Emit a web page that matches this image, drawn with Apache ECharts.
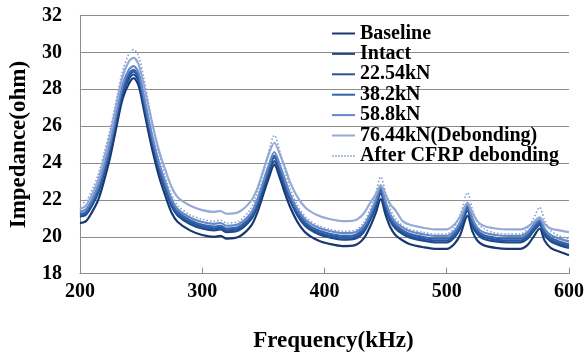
<!DOCTYPE html>
<html>
<head>
<meta charset="utf-8">
<script src="https://cdn.jsdelivr.net/npm/echarts@6/dist/echarts.min.js"></script>
<style>
  html, body { margin: 0; padding: 0; background: #fff; }
  #my_echart { width: 587px; height: 358px; }
</style>
</head>
<body>
<div id="my_echart"></div>
<script>
// 频率 (kHz)
var freq = [200,205,210,215,220,225,230,235,240,244,248,252,256,260,265,270,275,280,290,300,310,315,320,330,340,345,350,354,359,364,368,372,378,385,395,405,415,425,432,437,442,446,450,454,458,464,470,480,490,500,506,511,517,521,525,530,540,550,560,566,571,576,580,585,592,600];

// 阻抗 (ohm)
var baseline = [20.75,20.85,21.35,22.0,23.1,24.4,26.0,27.5,28.3,28.6,28.2,27.0,25.7,24.5,23.2,22.2,21.3,20.8,20.35,20.1,20.0,20.05,19.9,20.0,20.6,21.3,22.3,23.1,23.9,23.1,22.3,21.6,20.8,20.2,19.8,19.6,19.5,19.55,19.9,20.5,21.3,22.05,21.2,20.5,20.1,19.8,19.6,19.45,19.35,19.35,19.6,20.1,21.15,20.3,19.8,19.55,19.4,19.35,19.35,19.55,20.0,20.45,19.8,19.4,19.2,19.0];
var intact = [21.1,21.2,21.7,22.4,23.5,24.8,26.4,27.8,28.55,28.8,28.45,27.3,26.0,24.85,23.55,22.55,21.65,21.15,20.7,20.45,20.35,20.4,20.25,20.35,20.95,21.6,22.55,23.35,24.1,23.35,22.6,21.95,21.15,20.55,20.15,19.95,19.85,19.9,20.25,20.85,21.6,22.35,21.5,20.85,20.45,20.15,19.95,19.8,19.7,19.7,19.95,20.45,21.4,20.6,20.15,19.9,19.75,19.7,19.7,19.9,20.3,20.65,20.1,19.75,19.55,19.4];
var load2254 = [21.2,21.3,21.8,22.5,23.6,24.9,26.5,27.95,28.7,28.95,28.6,27.45,26.15,24.95,23.65,22.65,21.75,21.25,20.8,20.55,20.45,20.5,20.35,20.45,21.05,21.75,22.7,23.5,24.3,23.5,22.75,22.05,21.25,20.65,20.25,20.05,19.95,20.0,20.35,20.95,21.75,22.5,21.65,20.95,20.55,20.25,20.05,19.9,19.8,19.8,20.05,20.55,21.55,20.75,20.25,20.0,19.85,19.8,19.8,20.0,20.4,20.75,20.2,19.85,19.65,19.5];
var load382 = [21.25,21.35,21.9,22.6,23.7,25.0,26.6,28.05,28.85,29.05,28.7,27.55,26.25,25.05,23.75,22.75,21.85,21.35,20.9,20.65,20.55,20.6,20.45,20.55,21.15,21.85,22.8,23.6,24.4,23.6,22.85,22.15,21.35,20.75,20.35,20.15,20.05,20.1,20.45,21.05,21.85,22.6,21.75,21.05,20.65,20.35,20.15,20.0,19.9,19.9,20.15,20.65,21.65,20.85,20.35,20.1,19.95,19.9,19.9,20.1,20.5,20.85,20.3,19.95,19.75,19.6];
var load588 = [21.35,21.5,22.05,22.8,23.9,25.2,26.8,28.25,29.05,29.25,28.9,27.75,26.45,25.25,23.95,22.95,22.05,21.5,21.05,20.8,20.7,20.75,20.6,20.7,21.3,22.0,23.0,23.8,24.6,23.8,23.05,22.3,21.5,20.9,20.5,20.3,20.2,20.25,20.6,21.2,22.0,22.7,21.9,21.2,20.8,20.5,20.3,20.15,20.05,20.05,20.3,20.8,21.8,21.0,20.5,20.25,20.1,20.05,20.05,20.25,20.65,21.0,20.45,20.1,19.9,19.75];
var load7644 = [21.5,21.7,22.3,23.1,24.3,25.6,27.2,28.7,29.5,29.7,29.35,28.3,27.1,25.9,24.6,23.6,22.7,22.15,21.7,21.45,21.35,21.4,21.25,21.35,21.95,22.6,23.6,24.4,25.1,24.4,23.7,22.95,22.15,21.55,21.15,20.95,20.85,20.9,21.25,21.8,22.3,22.8,22.3,21.75,21.45,20.85,20.65,20.5,20.4,20.4,20.65,21.1,21.85,21.3,20.85,20.6,20.45,20.4,20.4,20.55,20.8,21.05,20.7,20.45,20.35,20.25];
var afterCFRP = [21.75,21.95,22.55,23.4,24.6,25.9,27.5,29.0,29.9,30.15,29.8,28.7,27.3,25.9,24.4,23.2,22.3,21.7,21.2,20.95,20.85,20.9,20.75,20.85,21.55,22.35,23.5,24.5,25.5,24.5,23.5,22.6,21.7,21.05,20.6,20.4,20.3,20.35,20.75,21.45,22.4,23.25,22.4,21.5,21.0,20.6,20.4,20.25,20.15,20.15,20.5,21.2,22.4,21.5,20.8,20.45,20.2,20.15,20.15,20.45,21.0,21.6,20.9,20.35,20.05,19.9];

var names = ["Baseline", "Intact", "22.54kN", "38.2kN", "58.8kN", "76.44kN(Debonding)", "After CFRP debonding"];
var values = [baseline, intact, load2254, load382, load588, load7644, afterCFRP];
var colors = ["#1a3870", "#1f4b8d", "#24559e", "#3364ad", "#6489c6", "#93abd6", "#8ca1d0"];

var font = "Liberation Serif";
// 图例图标：实线 / 点线
var solidIcon = "path://M0,0H23V2H0Z";
var dotIcon = "path://M0,0h1.3v2h-1.3z M3,0h1.3v2h-1.3z M6,0h1.3v2h-1.3z M9,0h1.3v2h-1.3z M12,0h1.3v2h-1.3z M15,0h1.3v2h-1.3z M18,0h1.3v2h-1.3z M21,0h1.3v2h-1.3z";

var series = names.map(function (n, k) {
  var dotted = k == 6;
  return {
    name: n,
    type: "line",
    symbol: "none",
    smooth: 0.3,
    data: freq.map(function (f, i) { return [f, values[k][i]]; }),
    lineStyle: {
      color: colors[k],
      width: dotted ? 1.6 : 2.2,
      type: dotted ? [1.6, 2] : "solid",
    },
    itemStyle: { color: colors[k] },
  };
});

var chart = echarts.init(document.getElementById("my_echart"));
chart.setOption({
  animation: false,
  grid: { left: 77.5, right: 14, top: 15.5, bottom: 84.3 },
  legend: {
    orient: "vertical",
    left: 332,
    top: 23.5,
    padding: 0,
    itemWidth: 23,
    itemHeight: 2,
    itemGap: 0.4,
    data: names.map(function (n, k) {
      return { name: n, icon: k == 6 ? dotIcon : solidIcon };
    }),
    textStyle: { fontFamily: font, fontWeight: "bold", fontSize: 20, lineHeight: 18, color: "#000" },
  },
  xAxis: {
    type: "value",
    min: 200,
    max: 600,
    interval: 100,
    name: "Frequency(kHz)",
    nameLocation: "middle",
    nameGap: 56,
    nameTextStyle: { fontFamily: font, fontWeight: "bold", fontSize: 23, color: "#000", padding: [0, 0, 0, 18] },
    axisLine: { lineStyle: { color: "#8c8c8c" } },
    axisTick: { inside: true, length: 6, lineStyle: { color: "#8c8c8c" } },
    axisLabel: { margin: 8, fontFamily: font, fontWeight: "bold", fontSize: 20, color: "#000" },
    splitLine: { show: false },
  },
  yAxis: {
    type: "value",
    min: 18,
    max: 32,
    interval: 2,
    name: "Impedance(ohm)",
    nameLocation: "middle",
    nameGap: 48,
    nameTextStyle: { fontFamily: font, fontWeight: "bold", fontSize: 23, color: "#000" },
    axisLine: { show: true, lineStyle: { color: "#8c8c8c" } },
    axisTick: { show: false },
    axisLabel: { margin: 18, fontFamily: font, fontWeight: "bold", fontSize: 20, color: "#000" },
    splitLine: { lineStyle: { color: "#8c8c8c", width: 1 } },
  },
  series: series,
});
</script>
</body>
</html>
